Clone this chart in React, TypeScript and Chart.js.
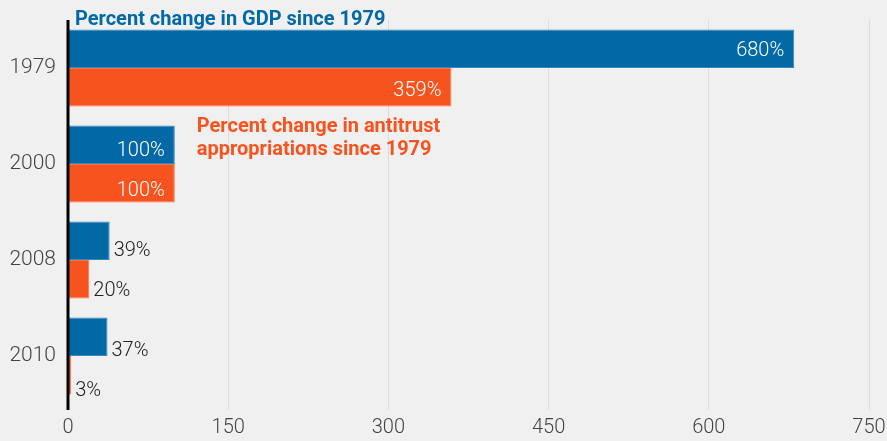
import React, { useEffect, useRef } from "react";
import { Chart, registerables } from "chart.js";

Chart.register(...registerables);

const categories = ["1979", "2000", "2008", "2010"];
const gdpValues = [680, 100, 39, 37];
const antitrustValues = [359, 100, 20, 3];
const xMin = 0;
const xMax = 750;
const xStep = 150;
const gdpLabel = "Percent change in GDP since 1979";
const antitrustLabelLines = ["Percent change in antitrust", "appropriations since 1979"];

const BLUE = "#0369a6";
const BLUE_EDGE = "#3587b8";
const ORANGE = "#f7531f";
const ORANGE_EDGE = "#f9754c";
const FONT = "Roboto, 'Noto Sans', sans-serif";

const labelPlugin = {
  id: "barLabels",
  afterDatasetsDraw(chart: any) {
    const ctx = chart.ctx;
    const area = chart.chartArea;
    ctx.save();
    ctx.strokeStyle = "#000";
    ctx.lineWidth = 3;
    ctx.beginPath();
    ctx.moveTo(area.left, area.top);
    ctx.lineTo(area.left, area.bottom + 6);
    ctx.stroke();

    ctx.font = `300 20px ${FONT}`;
    ctx.textBaseline = "middle";
    chart.data.datasets.forEach((ds: any, di: number) => {
      const meta = chart.getDatasetMeta(di);
      meta.data.forEach((bar: any, i: number) => {
        const v = ds.data[i];
        const txt = `${v}%`;
        const ty = bar.y + (bar.y - area.top) * 0.04 + 1.5;
        if (v >= 100) {
          ctx.fillStyle = "#ffffff";
          ctx.textAlign = "right";
          ctx.fillText(txt, bar.x - 10, ty);
        } else {
          ctx.fillStyle = "#222222";
          ctx.textAlign = "left";
          ctx.fillText(txt, bar.x + 4, ty);
        }
      });
    });
    const x0 = chart.scales.x.getPixelForValue(0);
    const gdpMeta = chart.getDatasetMeta(0);
    const atMeta = chart.getDatasetMeta(1);
    const firstBar = gdpMeta.data[0];
    ctx.font = `bold 20px ${FONT}`;
    ctx.textAlign = "left";
    ctx.textBaseline = "alphabetic";
    ctx.fillStyle = BLUE;
    ctx.fillText(gdpLabel, x0 + 7, firstBar.y - firstBar.height / 2 - 5);
    const ab = atMeta.data[1];
    const gb = gdpMeta.data[1];
    ctx.fillStyle = ORANGE;
    antitrustLabelLines.forEach((line, k) => {
      ctx.fillText(line, ab.x + 22, gb.y - gb.height / 2 + 6 + k * 23);
    });
    ctx.restore();
  },
};

export default function App() {
  const ref = useRef<HTMLCanvasElement>(null);
  useEffect(() => {
    document.body.style.margin = "0";
    document.body.style.background = "#f0f0f0";
    const chart = new Chart(ref.current!, {
      type: "bar",
      data: {
        labels: categories,
        datasets: [
          {
            label: "GDP", data: gdpValues, backgroundColor: BLUE, borderColor: BLUE_EDGE,
            borderWidth: 1, categoryPercentage: 0.8, barPercentage: 1,
          },
          {
            label: "Antitrust", data: antitrustValues, backgroundColor: ORANGE, borderColor: ORANGE_EDGE,
            borderWidth: 1, categoryPercentage: 0.8, barPercentage: 1,
          },
        ],
      },
      options: {
        indexAxis: "y",
        animation: false,
        responsive: false,
        maintainAspectRatio: false,
        layout: { padding: { top: 20, right: 18, bottom: 0, left: 0 } },
        plugins: { legend: { display: false }, tooltip: { enabled: false } },
        scales: {
          x: {
            min: xMin,
            max: xMax,
            ticks: { stepSize: xStep, color: "#444", font: { family: FONT, size: 20, weight: "300" }, padding: 6 },
            grid: { color: "#dcdcdc", drawTicks: true, tickLength: 6, tickColor: "#dcdcdc" },
            border: { display: false },
            afterFit(s: any) { s.height = 37; s.paddingLeft = 0; s.paddingRight = 0; },
          },
          y: {
            ticks: { color: "#444", font: { family: FONT, size: 21, weight: "300" }, padding: 12 },
            grid: { display: false, drawTicks: false },
            border: { display: false },
            afterFit(s: any) { s.width = 68; s.paddingTop = 0; s.paddingBottom = 0; },
          },
        },
      },
      plugins: [labelPlugin],
    } as any);
    return () => chart.destroy();
  }, []);
  return (
    <div style={{ width: 887, height: 441, background: "#f0f0f0" }}>
      <canvas ref={ref} width={887} height={441} />
    </div>
  );
}
